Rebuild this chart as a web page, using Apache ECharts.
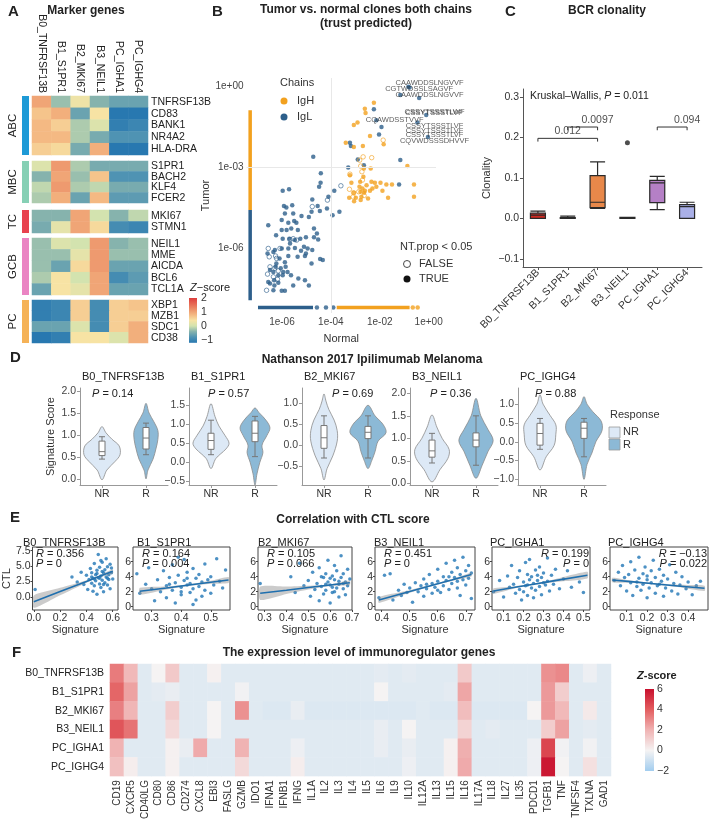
<!DOCTYPE html>
<html>
<head>
<meta charset="utf-8">
<script src="https://cdn.jsdelivr.net/npm/echarts@6/dist/echarts.min.js"></script>
<style>
  html, body { margin: 0; padding: 0; background: #fff; }
  #chart { width: 709px; height: 822px; }
</style>
</head>
<body>
<div id="chart"></div>
<script>
// ---------- A: marker genes ----------
const markerClusters = ['B0_TNFRSF13B', 'B1_S1PR1', 'B2_MKI67', 'B3_NEIL1', 'PC_IGHA1', 'PC_IGHG4']
const groupNames = ['ABC', 'MBC', 'TC', 'GCB', 'PC']
const groupGenes = [
  ['TNFRSF13B', 'CD83', 'BANK1', 'NR4A2', 'HLA-DRA'],
  ['S1PR1', 'BACH2', 'KLF4', 'FCER2'],
  ['MKI67', 'STMN1'],
  ['NEIL1', 'MME', 'AICDA', 'BCL6', 'TCL1A'],
  ['XBP1', 'MZB1', 'SDC1', 'CD38']
]
const abcZ = [
  [1.0, -0.3, 0.3, -0.4, -0.6, -0.6],
  [0.7, 0.9, -0.6, 0.4, -1.2, -1.2],
  [0.8, 0.6, -0.2, 0.1, -1.1, -1.0],
  [0.8, 0.8, -0.2, -0.5, -0.8, -0.8],
  [0.6, 0.5, -0.5, 0.9, -1.2, -1.2]
]
const mbcZ = [
  [0.1, 1.1, -0.2, -0.5, -0.5, -0.5],
  [-0.4, 1.0, -0.3, 0.7, -0.8, -0.8],
  [-0.1, 1.1, -0.2, -0.1, -0.5, -0.5],
  [-0.2, 0.9, -0.6, 0.8, -0.7, -0.7]
]
const tcZ = [
  [-0.4, -0.4, 1.0, 0.0, -0.4, -0.1],
  [-0.5, 0.2, 1.0, 0.5, -0.9, -1.0]
]
const gcbZ = [
  [-0.3, 0.1, 0.0, 1.1, -0.4, -0.3],
  [-0.3, -0.3, 0.2, 1.1, -0.3, -0.3],
  [-0.3, -0.6, 0.5, 1.1, -0.6, -0.6],
  [-0.2, 0.4, 0.0, 1.0, -0.9, -0.7],
  [-0.6, 0.4, 0.2, 1.0, -0.6, -0.6]
]
const pcZ = [
  [-1.1, -1.0, 0.6, -0.9, 0.6, 0.7],
  [-1.1, -1.0, 0.6, -0.9, 0.6, 0.6],
  [-0.6, -0.6, 0.1, -0.9, 0.6, 0.9],
  [-1.2, -1.1, 0.4, 0.4, 0.1, 0.9]
]
const groupZ = [abcZ, mbcZ, tcZ, gcbZ, pcZ]
const zTicksA = [2, 1, 0, -1]

// ---------- B: tumor vs normal clones (log10 frequencies) ----------
const igHTrue = [
  [-2.24, -0.62], [-2.61, -0.84], [-2.58, -1.00], [-3.06, -1.44], [-2.91, -1.35], [-2.40, -1.85],
  [-3.39, -2.10], [-3.06, -2.25], [-2.69, -2.22], [-1.84, -2.15], [-0.87, -2.96], [-2.65, -3.05],
  [-2.37, -3.05], [-3.22, -3.30], [-2.67, -3.36], [-2.80, -3.54], [-2.34, -3.54], [-2.20, -3.58],
  [-1.97, -3.58], [-1.73, -3.64], [-1.50, -3.64], [-0.60, -3.64], [-3.16, -3.58], [-2.83, -3.73],
  [-2.71, -3.79], [-2.30, -3.79], [-2.79, -3.91], [-2.61, -3.87], [-2.40, -3.87], [-1.89, -3.87],
  [-3.06, -3.95], [-3.25, -4.13], [-2.98, -4.13], [-2.75, -4.10], [-2.64, -3.95], [-3.05, -4.26],
  [-2.78, -4.22], [-2.48, -4.16], [-1.66, -4.13], [-0.60, -4.10], [-2.14, -3.73], [-2.54, -3.67],
  [-0.65, -8.2], [-0.45, -8.2]
]
const igHFalse = [
  [-1.86, -2.00], [-2.68, -2.62], [-2.33, -2.65], [-2.82, -2.74], [-3.22, -3.26], [-2.78, -2.96],
  [-2.73, -3.17], [-2.71, -3.48], [-3.24, -3.82], [-3.07, -3.95], [-3.09, -4.10], [-2.86, -3.91],
  [-2.64, -4.05]
]
const igLTrue = [
  [-2.24, -0.86], [-1.93, -1.51], [-2.03, -1.79], [-3.22, -2.10], [-3.18, -2.22], [-2.90, -2.72],
  [-2.65, -2.93], [-1.16, -2.74], [-3.29, -3.01], [-1.21, -3.64], [-2.14, -1.26], [-0.83, -0.02],
  [-1.16, -0.33], [-0.39, -0.44], [-0.10, -1.07], [-0.46, -1.35], [-0.03, -1.88], [-0.78, -0.05],
  [-4.72, -2.62], [-4.41, -3.23], [-4.42, -3.58], [-3.86, -3.87], [-4.10, -4.10], [-4.48, -3.73],
  [-5.97, -3.87], [-5.71, -3.82], [-5.92, -4.44], [-5.82, -4.49], [-5.58, -4.41], [-4.76, -4.20],
  [-4.54, -4.44], [-4.45, -4.62], [-4.16, -4.53], [-3.93, -4.78], [-3.65, -4.65], [-4.79, -4.65],
  [-4.90, -4.85], [-5.20, -4.81], [-5.54, -4.72], [-5.88, -4.72], [-6.01, -4.96], [-5.74, -5.06],
  [-5.50, -4.99], [-5.41, -5.06], [-5.62, -5.27], [-5.81, -5.33], [-6.01, -5.33], [-5.35, -5.33],
  [-4.69, -5.27], [-4.57, -5.46], [-4.69, -5.60], [-4.52, -5.68], [-6.56, -5.15], [-6.24, -5.52],
  [-5.97, -5.65], [-5.70, -5.65], [-5.47, -5.70], [-5.25, -5.65], [-5.02, -5.60], [-5.10, -5.95],
  [-4.95, -6.01], [-4.76, -6.07], [-5.02, -6.20], [-5.47, -5.99], [-5.22, -6.10], [-5.67, -5.83],
  [-5.74, -6.01], [-6.01, -6.01], [-6.29, -6.07], [-6.35, -6.14], [-6.59, -6.20], [-5.74, -6.29],
  [-6.10, -6.38], [-6.23, -6.57], [-5.88, -6.52], [-5.36, -6.32], [-5.06, -6.29], [-4.44, -6.40],
  [-4.33, -6.44], [-4.79, -6.57], [-6.26, -6.69], [-6.05, -6.74], [-5.85, -6.69], [-5.95, -6.88],
  [-5.77, -6.88], [-6.15, -7.00], [-5.97, -7.00], [-5.63, -7.00], [-5.33, -7.12], [-5.06, -7.19],
  [-4.90, -7.38], [-5.54, -7.38], [-6.31, -7.38], [-6.15, -7.28], [-6.49, -7.31], [-6.35, -7.56],
  [-6.01, -7.58], [-5.88, -7.58], [-6.32, -7.19], [-6.56, -7.25], [-6.35, -6.88], [-6.49, -6.81],
  [-4.57, -8.2], [-4.2, -8.2], [-3.9, -8.2]
]
const igLFalse = [
  [-3.59, -3.69], [-4.14, -4.22], [-4.76, -4.46], [-5.67, -5.68], [-5.40, -5.70], [-5.54, -5.65],
  [-6.08, -6.01], [-6.56, -6.01], [-6.52, -6.32], [-6.26, -6.29], [-6.22, -6.38], [-6.49, -6.69],
  [-6.59, -6.96], [-6.35, -7.06], [-6.18, -7.15], [-6.63, -7.56], [-6.29, -6.74], [-6.15, -6.84]
]
// clones found only in tumor (normal = 0) or only in normal (tumor = 0)
const normalZeroX = -7.3
const normalZeroIgH = [-0.89, -4.59]
const normalZeroIgL = [-4.59, -7.93]
const tumorZeroY = -8.2
const tumorZeroIgL = [-6.98, -4.73]
const tumorZeroIgH = [-3.76, -0.78]
const cloneLabels = [
  [0.04, 0.10, 'CAAWDDSLNGVVF'], [-0.39, -0.12, 'CGTWDSSLSAGVF'], [0.04, -0.33, 'CAAWDDSLNGVVF'],
  [0.22, -0.99, 'CSSYTSSSTLVF'], [0.24, -0.97, 'CSSYTSSSTLWF'], [-1.39, -1.26, 'CQAWDSSTVVF'],
  [0.24, -1.48, 'CSSYTSSSTLVF'], [0.24, -1.65, 'CSSYTSSSTLVF'], [0.24, -1.81, 'CSSYTSSSTLVF'],
  [0.24, -2.02, 'CQVWDSSSDHVVF']
]

// ---------- C: BCR clonality ----------
const clonalityStats = [
  [0, 0, 0.008, 0.013, 0.018],
  [0, 0, 0.001, 0.002, 0.006],
  [0.025, 0.027, 0.04, 0.106, 0.14],
  [0, 0, 0.001, 0.003, 0.003],
  [0.022, 0.039, 0.088, 0.094, 0.104],
  [0, 0, 0.029, 0.034, 0.04]
]
const clonalityOutliers = [[3, 0.187]]
const clonalityCompare = [[0, 2, 0.198, '0.012'], [1, 2, 0.226, '0.0097'], [4, 5, 0.226, '0.094']]
const kruskalP = '0.011'

// ---------- D: Nathanson 2017 violins ----------
const responseGroups = ['NR', 'R']
const dPanels = ['B0_TNFRSF13B', 'B1_S1PR1', 'B2_MKI67', 'B3_NEIL1', 'PC_IGHG4']
const dPvalues = ['0.14', '0.57', '0.69', '0.36', '0.88']
// [score, half width as share of category band]
const dViolinNR = [
  [[-0.02, 0], [0.2, 0.11], [0.4, 0.3], [0.55, 0.41], [0.75, 0.39], [0.9, 0.23], [1.05, 0.09], [1.19, 0]],
  [[-0.16, 0], [0.1, 0.11], [0.35, 0.34], [0.5, 0.41], [0.7, 0.32], [0.95, 0.18], [1.2, 0.09], [1.53, 0]],
  [[-0.82, 0], [-0.55, 0.07], [-0.25, 0.2], [0.1, 0.3], [0.35, 0.3], [0.6, 0.23], [0.85, 0.11], [1.05, 0.045], [1.22, 0]],
  [[0.03, 0], [0.3, 0.18], [0.55, 0.36], [0.75, 0.39], [1.0, 0.23], [1.25, 0.11], [1.52, 0]],
  [[-0.75, 0], [-0.4, 0.14], [-0.1, 0.32], [0.2, 0.36], [0.45, 0.36], [0.7, 0.23], [1.0, 0.07], [1.25, 0]]
]
const dViolinR = [
  [[0.0, 0], [0.2, 0.045], [0.45, 0.16], [0.7, 0.23], [0.9, 0.27], [1.1, 0.27], [1.3, 0.18], [1.5, 0.07], [1.72, 0]],
  [[-0.59, 0], [-0.3, 0.045], [0.0, 0.11], [0.25, 0.18], [0.45, 0.16], [0.7, 0.27], [0.9, 0.34], [1.1, 0.25], [1.3, 0.09], [1.42, 0]],
  [[-0.55, 0], [-0.35, 0.09], [-0.15, 0.16], [0.1, 0.23], [0.3, 0.41], [0.5, 0.34], [0.7, 0.16], [0.95, 0]],
  [[0.11, 0], [0.4, 0.14], [0.7, 0.27], [0.95, 0.39], [1.2, 0.27], [1.5, 0.11], [1.89, 0]],
  [[-1.0, 0], [-0.6, 0.07], [-0.3, 0.18], [0.0, 0.27], [0.3, 0.41], [0.55, 0.39], [0.8, 0.2], [1.0, 0.07], [1.2, 0]]
]
const dBoxNR = [
  [0.45, 0.53, 0.62, 0.86, 0.96], [0.2, 0.34, 0.57, 0.76, 1.1], [-0.3, -0.07, 0.18, 0.47, 0.7],
  [0.45, 0.58, 0.72, 0.96, 1.11], [-0.2, -0.09, 0.22, 0.49, 0.62]
]
const dBoxR = [
  [0.55, 0.68, 0.93, 1.17, 1.27], [0.15, 0.54, 0.76, 1.08, 1.2], [-0.3, 0.16, 0.31, 0.45, 0.7],
  [0.4, 0.81, 0.96, 1.12, 1.5], [-0.4, 0.09, 0.36, 0.52, 0.62]
]
const dYRange = [[-0.14, 2.07], [-0.59, 1.94], [-0.94, 1.36], [-0.04, 2.12], [-1.15, 1.43]]
const dYTicks = [[0, 0.5, 1, 1.5, 2], [-0.5, 0, 0.5, 1, 1.5], [-0.5, 0, 0.5, 1], [0, 0.5, 1, 1.5, 2], [-1, -0.5, 0, 0.5, 1]]

// ---------- E: correlation with CTL ----------
const ePanels = ['B0_TNFRSF13B', 'B1_S1PR1', 'B2_MKI67', 'B3_NEIL1', 'PC_IGHA1', 'PC_IGHG4']
const eR = ['0.356', '0.164', '0.105', '0.451', '0.199', '\u22120.13']
const eP = ['0', '0.004', '0.066', '0', '0', '0.022']
const eB0Points = [[0.01, 1.2], [0.29, 3.2], [0.33, 2.4], [0.36, 4.0], [0.38, 2.0], [0.40, 3.5], [0.41, 1.2], [0.42, 2.8], [0.43, 4.6], [0.44, 2.2], [0.44, 3.9], [0.45, 0.9], [0.45, 3.0], [0.46, 5.4], [0.46, 1.8], [0.47, 3.6], [0.47, 2.6], [0.48, 4.3], [0.48, 0.4], [0.49, 3.1], [0.49, 6.9], [0.50, 2.1], [0.50, 4.8], [0.51, 3.4], [0.51, 1.5], [0.52, 2.7], [0.52, 5.6], [0.53, 3.9], [0.53, 0.8], [0.54, 4.4], [0.54, 2.3], [0.55, 3.2], [0.55, 6.2], [0.56, 1.9], [0.56, 4.9], [0.57, 3.6], [0.57, 2.8], [0.58, 5.3], [0.58, 1.3], [0.59, 3.9], [0.59, 4.7], [0.60, 2.9], [0.48, 3.8], [0.50, 3.0], [0.52, 4.1], [0.46, 2.9], [0.53, 2.0], [0.44, 3.2], [0.56, 3.0], [0.51, 5.9]]
const eB1Points = [[0.25, 4.4], [0.26, 1.8], [0.28, 3.0], [0.29, 5.2], [0.30, 2.4], [0.31, 0.8], [0.32, 3.6], [0.33, 2.0], [0.34, 4.8], [0.35, 2.8], [0.35, 1.2], [0.36, 3.9], [0.37, 2.2], [0.37, 5.6], [0.38, 3.2], [0.38, 0.5], [0.39, 4.2], [0.40, 2.6], [0.40, 1.6], [0.41, 3.5], [0.41, 6.3], [0.42, 2.9], [0.42, 4.6], [0.43, 1.9], [0.43, 3.1], [0.44, 5.1], [0.44, 2.4], [0.45, 3.8], [0.45, 0.9], [0.46, 2.7], [0.46, 4.3], [0.47, 3.3], [0.47, 1.4], [0.48, 5.7], [0.48, 2.2], [0.49, 3.6], [0.50, 4.0], [0.50, 1.8], [0.51, 2.9], [0.52, 6.4], [0.53, 3.4], [0.54, 2.5], [0.55, 4.9], [0.39, 6.6], [0.44, 0.3], [0.36, 3.0], [0.42, 3.8], [0.40, 2.0]]
const eB2Points = [[0.28, 3.1], [0.42, 4.0], [0.44, 1.9], [0.46, 5.8], [0.48, 2.8], [0.50, 3.5], [0.51, 1.4], [0.52, 4.6], [0.53, 2.3], [0.54, 3.1], [0.55, 0.8], [0.55, 5.2], [0.56, 2.7], [0.57, 3.9], [0.57, 1.7], [0.58, 4.4], [0.58, 2.2], [0.59, 3.3], [0.59, 6.2], [0.60, 2.9], [0.60, 0.5], [0.61, 4.1], [0.61, 1.9], [0.62, 3.6], [0.62, 5.5], [0.63, 2.5], [0.63, 4.8], [0.64, 3.0], [0.64, 1.3], [0.65, 3.9], [0.65, 6.8], [0.66, 2.4], [0.66, 4.4], [0.67, 3.3], [0.67, 1.6], [0.68, 5.0], [0.68, 2.8], [0.69, 3.7], [0.60, 3.8], [0.62, 2.0], [0.58, 3.0], [0.64, 3.4], [0.61, 2.6], [0.66, 3.1], [0.56, 4.0]]
const eB3Points = [[0.39, 1.2], [0.41, 4.2], [0.43, 4.4], [0.44, 0.9], [0.46, 2.2], [0.47, 1.5], [0.48, 3.0], [0.49, 1.9], [0.50, 2.5], [0.51, 0.6], [0.52, 3.2], [0.53, 2.0], [0.54, 2.8], [0.55, 1.4], [0.55, 3.7], [0.56, 2.4], [0.57, 4.3], [0.58, 1.8], [0.58, 3.1], [0.59, 2.6], [0.60, 5.0], [0.60, 3.4], [0.61, 1.9], [0.62, 4.0], [0.62, 2.8], [0.63, 5.8], [0.63, 3.5], [0.64, 2.3], [0.65, 4.6], [0.65, 3.1], [0.66, 6.2], [0.66, 3.9], [0.67, 2.5], [0.67, 5.2], [0.68, 4.3], [0.68, 1.5], [0.69, 3.6], [0.69, 6.6], [0.70, 4.8], [0.70, 2.9], [0.71, 5.5], [0.71, 3.8], [0.72, 1.1], [0.72, 4.5], [0.64, 4.0], [0.60, 2.2], [0.56, 3.0], [0.67, 3.4]]
const ePcA1Points = [[0.05, 2.0], [0.08, 3.5], [0.10, 1.3], [0.12, 4.1], [0.13, 2.6], [0.14, 5.5], [0.15, 3.0], [0.16, 1.8], [0.17, 3.9], [0.18, 2.3], [0.18, 4.8], [0.19, 0.9], [0.20, 3.3], [0.20, 2.0], [0.21, 5.9], [0.21, 2.8], [0.22, 4.3], [0.22, 1.5], [0.23, 3.6], [0.23, 6.3], [0.24, 2.5], [0.24, 4.0], [0.25, 3.1], [0.25, 1.2], [0.26, 4.9], [0.26, 2.2], [0.27, 3.5], [0.28, 5.3], [0.28, 2.7], [0.29, 3.9], [0.29, 1.6], [0.30, 4.5], [0.31, 2.9], [0.32, 6.5], [0.32, 3.4], [0.33, 2.1], [0.34, 4.2], [0.35, 3.0], [0.36, 5.0], [0.38, 2.4], [0.40, 3.7], [0.42, 4.8], [0.44, 2.6], [0.48, 3.3], [0.50, 1.9], [0.27, 4.2], [0.22, 2.9], [0.30, 3.2]]
const ePcG4Points = [[0.04, 3.5], [0.06, 4.6], [0.07, 2.8], [0.08, 5.5], [0.09, 3.9], [0.10, 2.1], [0.11, 4.3], [0.12, 6.0], [0.12, 3.2], [0.13, 1.5], [0.14, 4.9], [0.15, 2.7], [0.16, 3.8], [0.16, 6.6], [0.17, 2.2], [0.18, 4.4], [0.18, 3.0], [0.19, 5.3], [0.20, 1.2], [0.20, 3.6], [0.21, 2.5], [0.22, 4.8], [0.22, 3.2], [0.23, 6.2], [0.24, 1.8], [0.24, 3.9], [0.25, 2.8], [0.26, 5.0], [0.27, 3.4], [0.28, 1.4], [0.28, 4.2], [0.29, 2.5], [0.30, 3.7], [0.31, 5.6], [0.32, 2.1], [0.33, 3.1], [0.34, 4.6], [0.35, 1.7], [0.36, 2.9], [0.37, 4.0], [0.39, 2.4], [0.40, 3.3], [0.42, 1.6], [0.44, 2.8], [0.46, 3.4], [0.20, 4.1], [0.26, 3.0], [0.15, 3.3]]
const ePoints = [eB0Points, eB1Points, eB2Points, eB3Points, ePcA1Points, ePcG4Points]
const eFitX = [[0, 0.2, 0.4, 0.5, 0.6], [0.26, 0.35, 0.42, 0.5, 0.56], [0.28, 0.4, 0.5, 0.6, 0.69], [0.39, 0.5, 0.6, 0.65, 0.72], [0.05, 0.15, 0.25, 0.35, 0.52], [0.03, 0.12, 0.22, 0.35, 0.48]]
const eFitY = [[-0.8, 0.85, 2.5, 3.33, 4.15], [2.07, 2.5, 2.85, 3.25, 3.55], [1.8, 2.2, 2.55, 2.89, 3.2], [0.9, 2.03, 3.05, 3.56, 4.28], [2.1, 2.55, 2.99, 3.44, 4.2], [3.56, 3.34, 3.09, 2.77, 2.45]]
const eFitHalf = [[1.0, 0.6, 0.2, 0.15, 0.35], [0.45, 0.2, 0.12, 0.2, 0.4], [0.9, 0.5, 0.25, 0.12, 0.3], [0.4, 0.18, 0.1, 0.12, 0.25], [0.35, 0.15, 0.1, 0.18, 0.45], [0.3, 0.15, 0.1, 0.15, 0.35]]
const eXRange = [[-0.01, 0.64], [0.237, 0.565], [0.27, 0.70], [0.376, 0.733], [0.042, 0.533], [0.019, 0.497]]
const eXTicks = [[0, 0.2, 0.4, 0.6], [0.3, 0.4, 0.5], [0.3, 0.4, 0.5, 0.6, 0.7], [0.4, 0.5, 0.6, 0.7], [0.1, 0.2, 0.3, 0.4, 0.5], [0.1, 0.2, 0.3, 0.4]]
const eYRange = [[-2.15, 8.1], [-0.44, 7.96], [-0.44, 7.96], [-0.44, 7.96], [-0.44, 7.96], [-0.44, 7.96]]
const eYTicks = [[0, 2.5, 5, 7.5], [0, 2, 4, 6], [0, 2, 4, 6], [0, 2, 4, 6], [0, 2, 4, 6], [0, 2, 4, 6]]

// ---------- F: immunoregulator genes ----------
const fClusters = ['B0_TNFRSF13B', 'B1_S1PR1', 'B2_MKI67', 'B3_NEIL1', 'PC_IGHA1', 'PC_IGHG4']
const fGenes = ['CD19', 'CXCR5', 'CD40LG', 'CD80', 'CD86', 'CD274', 'CXCL8', 'EBI3', 'FASLG', 'GZMB', 'IDO1', 'IFNA1', 'IFNB1', 'IFNG', 'IL1A', 'IL2', 'IL3', 'IL4', 'IL5', 'IL6', 'IL9', 'IL10', 'IL12A', 'IL13', 'IL15', 'IL16', 'IL17A', 'IL18', 'IL27', 'IL35', 'PDCD1', 'TGFB1', 'TNF', 'TNFSF4', 'TXLNA', 'GAD1']
const fZ = [
  [3.3, 1.8, -0.5, 0.0, 1.3, -0.5, -0.5, 0.1, -0.5, -0.5, -0.5, -0.5, -0.5, -0.5, -0.5, -0.5, -0.5, -0.5, -0.5, -0.4, -0.5, -0.4, -0.5, -0.5, -0.5, 1.3, -0.5, -0.5, -0.5, -0.5, -0.5, 2.8, 3.0, -0.5, -0.2, -0.5],
  [3.8, 2.4, -0.5, -0.4, -0.3, -0.5, -0.5, -0.5, -0.5, -0.1, -0.5, -0.5, -0.5, -0.5, -0.5, -0.5, -0.5, -0.5, -0.5, 0.0, -0.5, -0.5, -0.5, -0.5, -0.4, 2.3, -0.5, -0.5, -0.5, -0.5, -0.5, 2.6, 1.2, -0.5, -0.5, -0.5],
  [3.2, 1.9, -0.5, -0.5, 1.2, -0.5, -0.5, 0.0, -0.5, 2.8, -0.5, -0.6, -0.6, -0.3, -0.6, -0.6, -0.6, -0.6, -0.6, -0.6, -0.6, -0.6, -0.5, -0.6, -0.6, 1.7, -0.6, -0.6, -0.6, -0.6, 0.0, 2.6, 1.8, -0.5, 0.3, -0.5],
  [4.2, 3.5, -0.5, -0.5, 0.8, -0.5, -0.5, 0.0, -0.5, -0.5, -0.5, -0.5, -0.5, -0.5, -0.5, -0.5, -0.5, -0.5, -0.5, -0.3, -0.5, 0.0, -0.5, -0.5, -0.5, 1.0, -0.5, -0.4, -0.5, -0.5, -0.5, 1.2, 2.4, -0.5, -0.4, -0.5],
  [2.0, -0.5, -0.5, -0.5, 0.1, -0.3, 2.2, -0.5, -0.5, 2.0, -0.5, -0.5, -0.5, -0.2, -0.5, -0.5, -0.5, -0.5, -0.5, -0.3, -0.5, -0.3, -0.5, -0.5, 0.1, 2.1, -0.5, -0.5, -0.5, -0.5, -0.2, 4.6, -0.1, -0.5, -0.1, -0.5],
  [1.6, 0.2, -0.5, -0.5, 0.1, -0.5, -0.5, -0.5, -0.5, 0.8, -0.5, -0.5, -0.5, 0.2, -0.5, -0.5, -0.5, -0.5, -0.5, -0.5, -0.5, -0.2, -0.5, -0.5, 0.1, 2.2, -0.5, -0.5, -0.5, -0.5, -0.2, 5.8, 0.0, -0.5, 0.6, -0.5]
]
const zTicksF = [6, 4, 2, 0, -2]

// ---------- styles ----------
const FONT = '"Liberation Sans", Arial, Helvetica, sans-serif'
const groupColors = ['#1e9ad6', '#86d0b5', '#e8424f', '#ea84c3', '#f5b257']
const groupTops = [96, 161, 210, 238, 300]
const groupHeights = [59, 42, 23, 57, 43]
const paletteA = ['#2878b0', '#4f93b3', '#86b3ad', '#d3e3af', '#f7e3a4', '#f4b983', '#ec9068', '#e66652', '#dd3d3d']
const paletteF = ['#a2cdef', '#f5f3f3', '#f0b3b3', '#e35d5f', '#c8102e']
const IGH = '#f2a11f'
const IGL = '#2d5f8b'
const boxColors = ['#cf2a22', '#333333', '#e8884a', '#555555', '#b580c6', '#aab0e8']
const violinColors = ['#dde9f6', '#8cb9d6']
const dLefts = [80, 189, 302, 410, 518]
const dPx = [92, 208, 332, 430, 535]
const eLefts = [27, 133, 258, 375, 492, 610]
const eWidths = [91, 97, 94, 100, 98, 98]
const eTitleX = [23, 137, 258, 374, 490, 608]
const ePoint = '#2176b5'

const minus = s => String(s).replace('-', '\u2212')
const fmt1 = v => minus(v.toFixed(1))
const sciLabel = v => '1e' + (v < 0 ? '-' : '+') + String(Math.abs(Math.round(v))).padStart(2, '0')

const grids = []
const xAxes = []
const yAxes = []
const series = []
const graphics = []
const noShow = { show: false }

const addGrid = (rect, xa, ya) => {
  grids.push(Object.assign({ show: false }, rect))
  const gi = grids.length - 1
  xAxes.push(Object.assign({ gridIndex: gi }, xa))
  yAxes.push(Object.assign({ gridIndex: gi }, ya))
  return gi
}

const rich = size => ({
  i: { fontStyle: 'italic', fontSize: size, fontFamily: FONT, fill: '#222' },
  bi: { fontStyle: 'italic', fontWeight: 'bold', fontSize: size, fontFamily: FONT, fill: '#222' }
})

const txt = (x, y, s, o = {}) => {
  const size = o.size || 11
  const style = {
    text: s, fontSize: size, fontFamily: FONT, fontWeight: o.bold ? 'bold' : 'normal',
    fill: o.color || '#222', align: o.align || 'left', verticalAlign: o.va || 'middle',
    rich: rich(size)
  }
  graphics.push({ type: 'text', x, y, rotation: o.rot || 0, style, silent: true, z: 100 })
}

const axisText = (size, extra) => Object.assign({ fontSize: size, color: '#333', fontFamily: FONT }, extra)
// axis line that sits at the grid edge, never at zero
const edgeLine = color => ({ show: true, onZero: false, lineStyle: { color } })
const hiddenLine = { show: false, onZero: false }

// ---------- panel A ----------
const heatAIdx = []
groupNames.forEach((g, k) => {
  const gi = addGrid(
    { left: 32, top: groupTops[k], width: 116, height: groupHeights[k] },
    {
      type: 'category', data: markerClusters, position: 'top',
      axisLine: hiddenLine, axisTick: noShow, splitLine: noShow,
      axisLabel: axisText(10.5, { show: k === 0, rotate: 90, margin: 3, color: '#222', interval: 0 })
    },
    {
      type: 'category', data: groupGenes[k], inverse: true, position: 'right',
      axisLine: hiddenLine, axisTick: noShow, splitLine: noShow,
      axisLabel: axisText(10.5, { margin: 3, color: '#222', interval: 0 })
    }
  )
  const data = []
  groupZ[k].forEach((row, r) => row.forEach((v, c) => data.push([c, r, v])))
  heatAIdx.push(series.length)
  series.push({ type: 'heatmap', xAxisIndex: gi, yAxisIndex: gi, data, itemStyle: { borderWidth: 0 }, emphasis: { disabled: true } })
  graphics.push({ type: 'rect', shape: { x: 22, y: groupTops[k], width: 7, height: groupHeights[k] }, style: { fill: groupColors[k] }, silent: true })
  txt(13, groupTops[k] + groupHeights[k] / 2, g, { rot: Math.PI / 2, align: 'center', size: 11.5 })
})

// colour bar A
graphics.push({
  type: 'rect', shape: { x: 189, y: 298, width: 8, height: 44.8 }, silent: true,
  style: { fill: new echarts.graphic.LinearGradient(0, 0, 0, 1, paletteA.slice().reverse().map((c, i, a) => ({ offset: i / (a.length - 1), color: c }))) }
})
txt(190, 288, '{i|Z}\u2212score', { size: 11 })
zTicksA.forEach(v => txt(201, 298 + (2 - v) * 14, minus(v), { size: 10.5, color: '#333' }))

// ---------- panel B ----------
const gB = addGrid(
  { left: 246.5, top: 78, width: 189.5, height: 235 },
  {
    type: 'value', min: -7.45, max: 0.3,
    axisLine: hiddenLine, axisTick: { show: false }, splitLine: noShow,
    axisLabel: axisText(10, { customValues: [-6, -4, -2, 0], formatter: sciLabel, margin: 4, color: '#444' }),
    name: 'Normal', nameLocation: 'middle', nameGap: 20, nameTextStyle: axisText(11)
  },
  {
    type: 'value', min: -8.4, max: 0.3,
    axisLine: hiddenLine, axisTick: { show: false }, splitLine: noShow,
    axisLabel: axisText(10, { customValues: [-6, -3, 0], formatter: sciLabel, margin: 3, color: '#444' }),
    name: 'Tumor', nameLocation: 'middle', nameGap: 33, nameTextStyle: axisText(11)
  }
)
const stripLine = (data, color) => ({
  type: 'line', xAxisIndex: gB, yAxisIndex: gB, data, symbol: 'none', silent: true,
  lineStyle: { color, width: 3.5 }, z: 2
})
series.push({
  type: 'scatter', xAxisIndex: gB, yAxisIndex: gB, data: [], silent: true,
  markLine: {
    silent: true, symbol: 'none', label: noShow, animation: false,
    lineStyle: { color: '#e8e8e8', type: 'solid', width: 1 },
    data: [{ xAxis: -4 }, { yAxis: -3 }]
  }
})
series.push(stripLine([[normalZeroX, normalZeroIgH[0]], [normalZeroX, normalZeroIgH[1]]], IGH))
series.push(stripLine([[normalZeroX, normalZeroIgL[0]], [normalZeroX, normalZeroIgL[1]]], IGL))
series.push(stripLine([[tumorZeroIgL[0], tumorZeroY], [tumorZeroIgL[1], tumorZeroY]], IGL))
series.push(stripLine([[tumorZeroIgH[0], tumorZeroY], [tumorZeroIgH[1], tumorZeroY]], IGH))
const dots = (data, color, open) => ({
  type: 'scatter', xAxisIndex: gB, yAxisIndex: gB, data, symbolSize: 4.5, silent: true, z: 3,
  itemStyle: open ? { color: 'rgba(255,255,255,0)', borderColor: color, borderWidth: 0.8 } : { color }
})
series.push(dots(igLTrue, IGL, false))
series.push(dots(igLFalse, IGL, true))
series.push(dots(igHTrue, IGH, false))
series.push(dots(igHFalse, IGH, true))
series.push({
  type: 'scatter', xAxisIndex: gB, yAxisIndex: gB, data: cloneLabels, symbolSize: 1, silent: true, z: 4,
  itemStyle: { color: 'rgba(0,0,0,0)' },
  label: { show: true, position: 'inside', formatter: p => p.value[2], fontSize: 7.5, color: '#333', fontFamily: FONT }
})
// legends B
txt(280, 83, 'Chains', { size: 11, color: '#333' })
graphics.push({ type: 'circle', shape: { cx: 284, cy: 101, r: 3.5 }, style: { fill: IGH }, silent: true })
txt(297, 101, 'IgH', { size: 11, color: '#333' })
graphics.push({ type: 'circle', shape: { cx: 284, cy: 117, r: 3.5 }, style: { fill: IGL }, silent: true })
txt(297, 117, 'IgL', { size: 11, color: '#333' })
txt(400, 247, 'NT.prop < 0.05', { size: 11, color: '#333' })
graphics.push({ type: 'circle', shape: { cx: 407, cy: 264, r: 3.5 }, style: { fill: '#fff', stroke: '#333', lineWidth: 0.9 }, silent: true })
txt(419, 264, 'FALSE', { size: 11, color: '#333' })
graphics.push({ type: 'circle', shape: { cx: 407, cy: 279, r: 3.5 }, style: { fill: '#111' }, silent: true })
txt(419, 279, 'TRUE', { size: 11, color: '#333' })

// ---------- panel C ----------
const gC = addGrid(
  { left: 523, top: 89, width: 179, height: 178 },
  {
    type: 'category', data: markerClusters,
    axisLine: edgeLine('#555'),
    axisTick: { show: true, alignWithLabel: true, length: 3, lineStyle: { color: '#555' } },
    axisLabel: axisText(10.5, { rotate: 45, margin: 4, interval: 0 })
  },
  {
    type: 'value', min: -0.12, max: 0.32, splitLine: noShow,
    axisLine: edgeLine('#555'),
    axisTick: { show: true, length: 3, lineStyle: { color: '#555' }, customValues: [-0.1, 0, 0.1, 0.2, 0.3] },
    axisLabel: axisText(10.5, { customValues: [-0.1, 0, 0.1, 0.2, 0.3], formatter: fmt1, margin: 4 }),
    name: 'Clonality', nameLocation: 'middle', nameGap: 31, nameTextStyle: axisText(11)
  }
)
series.push({
  type: 'boxplot', xAxisIndex: gC, yAxisIndex: gC, boxWidth: [15, 15], silent: true,
  data: clonalityStats.map((s, i) => ({ value: s, itemStyle: { color: boxColors[i], borderColor: '#2a2a2a', borderWidth: 1.2 } }))
})
series.push({ type: 'scatter', xAxisIndex: gC, yAxisIndex: gC, data: clonalityOutliers, symbolSize: 5, itemStyle: { color: '#222' }, silent: true })
clonalityCompare.forEach(([a, b, y]) => {
  series.push({
    type: 'line', xAxisIndex: gC, yAxisIndex: gC, symbol: 'none', silent: true,
    data: [[a, y - 0.008], [a, y], [b, y], [b, y - 0.008]],
    lineStyle: { color: '#333', width: 1 }
  })
})
series.push({
  type: 'scatter', xAxisIndex: gC, yAxisIndex: gC, symbolSize: 1, silent: true,
  itemStyle: { color: 'rgba(0,0,0,0)' },
  data: clonalityCompare.map(([a, b, y, p]) => [(a + b) / 2, y, p]),
  label: { show: true, position: 'top', distance: 1, formatter: p => p.value[2], fontSize: 10.5, color: '#222', fontFamily: FONT }
})
txt(530, 96, 'Kruskal\u2013Wallis, {i|P} = ' + kruskalP, { size: 10.5 })

// ---------- panel D ----------
dPanels.forEach((name, k) => {
  const gi = addGrid(
    { left: dLefts[k], top: 388, width: 88, height: 97 },
    {
      type: 'category', data: responseGroups,
      axisLine: edgeLine('#999'),
      axisTick: { show: true, alignWithLabel: true, length: 3, lineStyle: { color: '#999' } },
      axisLabel: axisText(10.5, { margin: 4 })
    },
    {
      type: 'value', min: dYRange[k][0], max: dYRange[k][1], splitLine: noShow,
      axisLine: edgeLine('#999'),
      axisTick: { show: true, length: 3, lineStyle: { color: '#999' }, customValues: dYTicks[k] },
      axisLabel: axisText(10.5, { customValues: dYTicks[k], formatter: fmt1, margin: 4, color: '#444' }),
      name: k === 0 ? 'Signature Score' : '', nameLocation: 'middle', nameGap: 24, nameTextStyle: axisText(11)
    }
  )
  const profiles = [dViolinNR[k], dViolinR[k]]
  series.push({
    type: 'custom', xAxisIndex: gi, yAxisIndex: gi, silent: true, z: 1,
    data: profiles.map((p, i) => [i, p[0][0], p[p.length - 1][0]]),
    encode: { x: 0, y: [1, 2] },
    renderItem: (params, api) => {
      const i = params.dataIndex
      const prof = profiles[i]
      const band = api.size([1, 0])[0]
      const right = prof.map(([v, w]) => { const c = api.coord([i, v]); return [c[0] + w * band, c[1]] })
      const left = prof.slice(1, -1).reverse().map(([v, w]) => { const c = api.coord([i, v]); return [c[0] - w * band, c[1]] })
      return {
        type: 'polygon', shape: { points: right.concat(left), smooth: 0.35 },
        style: { fill: violinColors[i], stroke: '#8c8c8c', lineWidth: 0.8 }
      }
    }
  })
  series.push({
    type: 'boxplot', xAxisIndex: gi, yAxisIndex: gi, boxWidth: [6, 6], silent: true, z: 3,
    data: [dBoxNR[k], dBoxR[k]],
    itemStyle: { color: '#fff', borderColor: '#777', borderWidth: 1 }
  })
  txt(dLefts[k] + 2, 377, name, { size: 11 })
  txt(dPx[k], 394, '{i|P} = ' + dPvalues[k], { size: 11 })
})
txt(610, 415, 'Response', { size: 11, color: '#333' })
graphics.push({ type: 'rect', shape: { x: 609, y: 427, width: 11, height: 11 }, style: { fill: violinColors[0], stroke: '#999', lineWidth: 0.8 }, silent: true })
graphics.push({ type: 'rect', shape: { x: 609, y: 439, width: 11, height: 11 }, style: { fill: violinColors[1], stroke: '#999', lineWidth: 0.8 }, silent: true })
txt(623, 432, 'NR', { size: 11, color: '#333' })
txt(623, 445, 'R', { size: 11, color: '#333' })

// ---------- panel E ----------
ePanels.forEach((name, k) => {
  const yFmt = k === 0 ? fmt1 : v => String(v)
  const gi = addGrid(
    { left: eLefts[k], top: 547, width: eWidths[k], height: 63, show: true, borderColor: '#444', borderWidth: 1, backgroundColor: '#fff' },
    {
      type: 'value', min: eXRange[k][0], max: eXRange[k][1], splitLine: noShow,
      axisLine: hiddenLine,
      axisTick: { show: true, length: 2, lineStyle: { color: '#444' }, customValues: eXTicks[k] },
      axisLabel: axisText(10.5, { customValues: eXTicks[k], formatter: fmt1, margin: 3 }),
      name: 'Signature', nameLocation: 'middle', nameGap: 14, nameTextStyle: axisText(11)
    },
    {
      type: 'value', min: eYRange[k][0], max: eYRange[k][1], splitLine: noShow,
      axisLine: hiddenLine,
      axisTick: { show: true, length: 2, lineStyle: { color: '#444' }, customValues: eYTicks[k] },
      axisLabel: axisText(10.5, { customValues: eYTicks[k], formatter: yFmt, margin: 2 }),
      name: k === 0 ? 'CTL' : '', nameLocation: 'middle', nameGap: 14, nameTextStyle: axisText(11)
    }
  )
  series.push({
    type: 'scatter', xAxisIndex: gi, yAxisIndex: gi, data: ePoints[k], symbolSize: 3.5, silent: true, z: 2,
    itemStyle: { color: ePoint }
  })
  const fx = eFitX[k]
  const fy = eFitY[k]
  const fh = eFitHalf[k]
  series.push({
    type: 'custom', xAxisIndex: gi, yAxisIndex: gi, silent: true, z: 3,
    data: fx.map((x, j) => [x, fy[j]]),
    renderItem: (params, api) => {
      if (params.dataIndex !== 0) return
      const up = fx.map((x, j) => api.coord([x, fy[j] + fh[j]]))
      const lo = fx.map((x, j) => api.coord([x, fy[j] - fh[j]])).reverse()
      return { type: 'polygon', shape: { points: up.concat(lo), smooth: 0.2 }, style: { fill: 'rgba(140,140,140,0.45)' } }
    }
  })
  series.push({
    type: 'line', xAxisIndex: gi, yAxisIndex: gi, silent: true, symbol: 'none', z: 4,
    data: fx.map((x, j) => [x, fy[j]]),
    lineStyle: { color: '#1f6fae', width: 1.6 }
  })
  txt(eTitleX[k], 543, name, { size: 11 })
  if (k < 4) {
    txt(eLefts[k] + 9, 554, '{i|R} = ' + eR[k], { size: 11 })
    txt(eLefts[k] + 9, 564, '{i|P} = ' + eP[k], { size: 11 })
  } else {
    txt(eLefts[k] + eWidths[k] - 1, 554, '{i|R} = ' + eR[k], { size: 11, align: 'right' })
    txt(eLefts[k] + eWidths[k] - 1, 564, '{i|P} = ' + eP[k], { size: 11, align: 'right' })
  }
})

// ---------- panel F ----------
const gF = addGrid(
  { left: 110, top: 664, width: 501, height: 115 },
  {
    type: 'category', data: fGenes, axisLine: hiddenLine, axisTick: noShow, splitLine: noShow,
    axisLabel: axisText(10, { rotate: 90, margin: 4, interval: 0 })
  },
  {
    type: 'category', data: fClusters, inverse: true, axisLine: hiddenLine, axisTick: noShow, splitLine: noShow,
    axisLabel: axisText(10.5, { margin: 6, color: '#222', interval: 0 })
  }
)
const heatFData = []
fZ.forEach((row, r) => row.forEach((v, c) => heatFData.push([c, r, v])))
const heatFIdx = series.length
series.push({ type: 'heatmap', xAxisIndex: gF, yAxisIndex: gF, data: heatFData, itemStyle: { borderWidth: 0 }, emphasis: { disabled: true } })
graphics.push({
  type: 'rect', shape: { x: 645, y: 689, width: 9, height: 82 }, silent: true,
  style: { fill: new echarts.graphic.LinearGradient(0, 0, 0, 1, paletteF.slice().reverse().map((c, i, a) => ({ offset: i / (a.length - 1), color: c }))) }
})
txt(637, 676, '{bi|Z}-score', { size: 11, bold: true })
zTicksF.forEach(v => txt(657, 689 + (6 - v) * 10.25, minus(v), { size: 10.5, color: '#333' }))

// ---------- titles ----------
txt(8, 12, 'A', { size: 15, bold: true })
txt(212, 12, 'B', { size: 15, bold: true })
txt(505, 12, 'C', { size: 15, bold: true })
txt(10, 358, 'D', { size: 15, bold: true })
txt(10, 518, 'E', { size: 15, bold: true })
txt(12, 653, 'F', { size: 15, bold: true })
txt(86, 11, 'Marker genes', { size: 12, bold: true, align: 'center' })
txt(366, 10, 'Tumor vs. normal clones both chains', { size: 12, bold: true, align: 'center' })
txt(366, 24, '(trust predicted)', { size: 12, bold: true, align: 'center' })
txt(607, 11, 'BCR clonality', { size: 12, bold: true, align: 'center' })
txt(372, 360, 'Nathanson 2017 Ipilimumab Melanoma', { size: 12, bold: true, align: 'center' })
txt(353, 520, 'Correlation with CTL score', { size: 12, bold: true, align: 'center' })
txt(359, 653, 'The expression level of immunoregulator genes', { size: 12, bold: true, align: 'center' })

const chart = echarts.init(document.getElementById('chart'), null, { renderer: 'canvas' })
chart.setOption({
  animation: false,
  backgroundColor: '#fff',
  textStyle: { fontFamily: FONT },
  grid: grids,
  xAxis: xAxes,
  yAxis: yAxes,
  visualMap: [
    { type: 'continuous', show: false, seriesIndex: heatAIdx, dimension: 2, min: -1.2, max: 2.0, inRange: { color: paletteA } },
    { type: 'continuous', show: false, seriesIndex: [heatFIdx], dimension: 2, min: -2, max: 6, inRange: { color: paletteF } }
  ],
  series,
  graphic: graphics
})

window.addEventListener('resize', () => chart.resize())
</script>
</body>
</html>
